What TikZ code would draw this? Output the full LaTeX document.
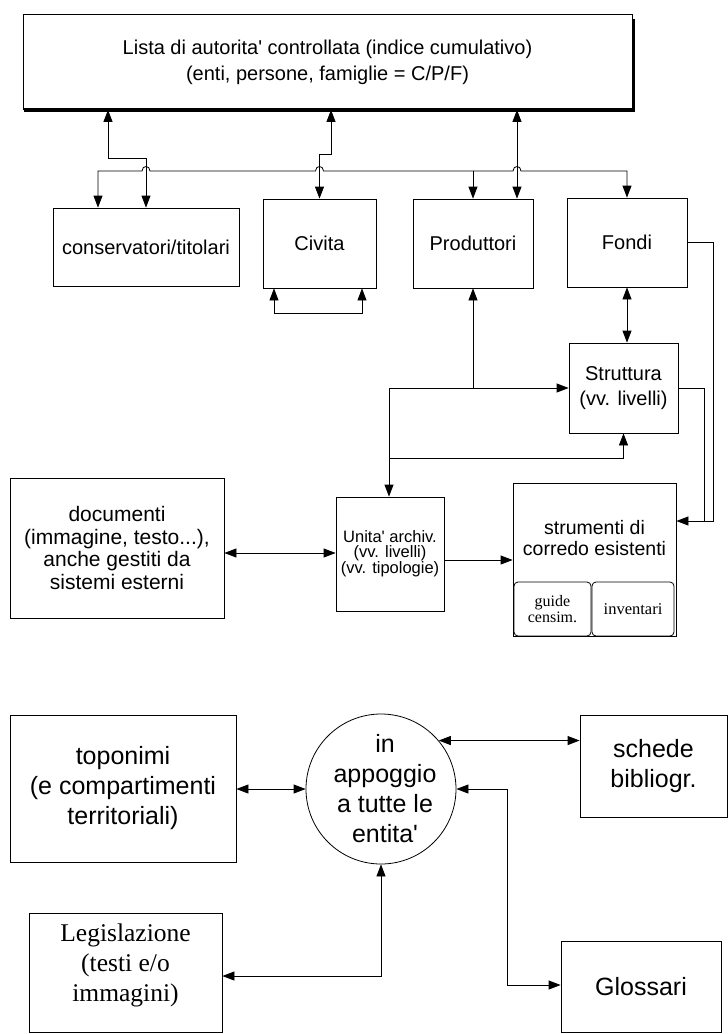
\documentclass[tikz,border=0pt]{standalone}
\usepackage{fontspec}
\setmainfont{Liberation Sans}[Ligatures=NoCommon]
\newfontfamily\legfont{Liberation Serif}
\usetikzlibrary{arrows.meta}
\newcommand{\apo}{\textquotesingle}
\begin{document}
\begin{tikzpicture}[x=1pt,y=-1pt,
  line width=0.8pt,
  box/.style={draw, rectangle, inner sep=0pt, line width=0.8pt},
  fa/.style={font=\fontsize{20}{24}\selectfont, align=center},
  fb/.style={font=\fontsize{25}{30}\selectfont, align=center},
  fsm/.style={font=\fontsize{16.5}{15}\selectfont, align=center},
  fser/.style={font=\legfont\fontsize{16}{15.5}\selectfont, align=center},
  both/.style={{Triangle[length=12pt,width=9pt]}-{Triangle[length=12pt,width=9pt]}},
  one/.style={-{Triangle[length=12pt,width=9pt]}}
]
\useasboundingbox (0,0) rectangle (728,1034);

% ---------- nodes ----------
\node[box, minimum width=609pt, minimum height=95pt, align=center,
      font=\fontsize{20}{26}\selectfont] (top) at (327.5,62)
  {Lista di autorita\apo{} controllata (indice cumulativo)\\(enti, persone, famiglie = C/P/F)};
\draw[line width=3.5pt] ([xshift=1pt]top.south west) -- ([xshift=1pt]top.south east) -- ([xshift=1pt,yshift=-5pt]top.north east);

\node[box, minimum width=186pt, minimum height=78pt, fa] (cons) at (146,247) {conservatori/titolari};
\node[box, minimum width=113pt, minimum height=89pt, fa] (civ) at (319.5,243.5) {Civita};
\node[box, minimum width=120pt, minimum height=89pt, fa] (prod) at (473,243.5) {Produttori};
\node[box, minimum width=120pt, minimum height=89pt, fa] (fondi) at (627,242.5) {Fondi};
\node[box, minimum width=109pt, minimum height=90pt, align=center, font=\fontsize{20}{25}\selectfont] (strutt) at (623.5,388) {Struttura\\(vv. livelli)};

\node[box, minimum width=214pt, minimum height=140pt, align=center, font=\fontsize{21}{22.5}\selectfont] (doc) at (117,548)
  {documenti\\(immagine, testo...),\\anche gestiti da\\sistemi esterni};
\node[box, minimum width=108pt, minimum height=114pt, fsm] (unita) at (390,554)
  {Unita\apo{} archiv.\\(vv. livelli)\\(vv. tipologie)};
\node[box, minimum width=163pt, minimum height=153pt] (strum) at (594.5,559.5) {};
\node[align=center, font=\fontsize{19.5}{21}\selectfont] (strumtxt) at (594.5,538) {strumenti di\\corredo esistenti};
\node[draw, rectangle, rounded corners=4pt, minimum width=77pt, minimum height=54pt, inner sep=0pt, fser] (guide) at (552.5,609) {guide\\censim.};
\node[draw, rectangle, rounded corners=4pt, minimum width=82pt, minimum height=54pt, inner sep=0pt, align=center, font=\legfont\fontsize{16.5}{16}\selectfont] (invent) at (633,609) {inventari};

\node[box, minimum width=226pt, minimum height=147pt, fb] (topo) at (123,788.5)
  {toponimi\\(e compartimenti\\territoriali)};
\node[draw, circle, minimum size=150pt, inner sep=0pt] (circ) at (381,789) {};
\node[fb] (circtxt) at (385,789) {in\\appoggio\\a tutte le\\entita\apo};
\node[box, minimum width=147pt, minimum height=102pt, fb] (schede) at (653.5,766) {schede\\bibliogr.};
\node[box, minimum width=193pt, minimum height=119pt] (legis) at (125.5,972.5) {};
\node[align=center, font=\legfont\fontsize{25.5}{30}\selectfont] (legtxt) at (125.5,965) {Legislazione\\(testi e/o\\immagini)};
\node[box, minimum width=160pt, minimum height=91pt, fb] (gloss) at (641,986.5) {Glossari};

% ---------- connectors: top ----------
\draw[both] (108,0 |- top.south) -- (108,158) -- (146,158) -- (cons.north);
\draw[both] (331,0 |- top.south) -- (331,154) -- (319.5,154) -- (civ.north);
\draw[both] (517,0 |- top.south) -- (517,0 |- prod.north);
\draw[both] (98,0 |- cons.north) -- (98,171) -- (142,171)
  .. controls (142,165) and (150,165) .. (150,171) -- (315.5,171)
  .. controls (315.5,165) and (323.5,165) .. (323.5,171) -- (513,171)
  .. controls (513,165) and (521,165) .. (521,171) -- (627,171) -- (fondi.north);
\draw[one] (473,171) -- (473,0 |- prod.north);

% Civita loop
\draw[both] (274,0 |- civ.south) -- (274,313) -- (362,313) -- (362,0 |- civ.south);

% ---------- connectors: middle ----------
\draw[both] (prod.south) -- (473,388) -- (strutt.west);
\draw[one] (473,388) -- (389,388) -- (389,0 |- unita.north);
\draw[one] (389,458) -- (623.5,458) -- (strutt.south);
\draw[both] (fondi.south) -- (627,0 |- strutt.north);
\draw[one] (fondi.east) -- (713,242.5) -- (713,521) -- (strum.east |- 0,521);
\draw (strutt.east) -- (704,388) -- (704,521);
\draw[both] (doc.east |- 0,553) -- (unita.west |- 0,553);
\draw[one] (unita.east |- 0,560) -- (strum.west |- 0,560);

% ---------- connectors: bottom ----------
\draw[both] (topo.east |- circ.west) -- (circ.west);
\draw[both] (circ.40) -- (schede.west |- circ.40);
\draw[both] (circ.east) -- (507,789) -- (507,985) -- (gloss.west |- 0,985);
\draw[both] (circ.south) -- (381,976) -- (legis.east |- 0,976);
\end{tikzpicture}
\end{document}
